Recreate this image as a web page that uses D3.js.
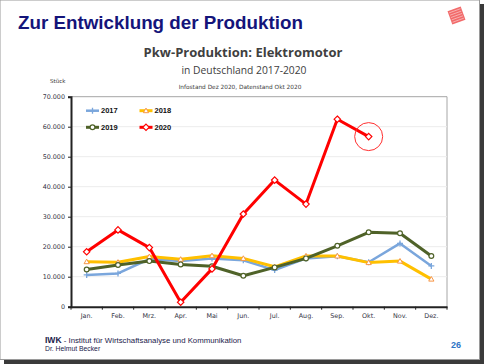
<!DOCTYPE html>
<html>
<head>
<meta charset="utf-8">
<script src="https://cdn.jsdelivr.net/npm/d3@7"></script>
<style>
  body { margin: 0; background: #fff; }
  svg { display: block; }
</style>
</head>
<body>
<div id="chart"></div>
<script>
const months = ["Jan.", "Feb.", "Mrz.", "Apr.", "Mai", "Jun.", "Jul.", "Aug.", "Sep.", "Okt.", "Nov.", "Dez."];
const years = ["2017", "2018", "2019", "2020"];
const v2017 = [10600, 11100, 15900, 15200, 16100, 15500, 12200, 16100, 16800, 14800, 21100, 13600];
const v2018 = [15000, 14800, 16700, 15800, 17000, 16100, 13300, 16900, 16900, 14700, 15200, 9200];
const v2019 = [12400, 13900, 15200, 14100, 13500, 10300, 13100, 16100, 20300, 24800, 24500, 16900];
const v2020 = [18300, 25600, 19700, 1500, 12600, 30900, 42200, 34200, 62500, 56700];
const yTicks = [0, 10000, 20000, 30000, 40000, 50000, 60000, 70000];

const W = 484, H = 364;
const svg = d3.select("#chart").append("svg")
    .attr("width", W).attr("height", H);

// slide frame with shadow
svg.append("rect").attr("x", 0).attr("y", 0).attr("width", W).attr("height", H).attr("fill", "#fff");
svg.append("rect").attr("x", 4).attr("y", 4).attr("width", 480).attr("height", 360).attr("fill", "#3a3a3a");
svg.append("rect").attr("x", 0).attr("y", 0).attr("width", 479.5).attr("height", 359.5)
    .attr("fill", "#fff").attr("stroke", "#9a9a9a").attr("stroke-width", 1);

// headline
svg.append("text")
    .attr("x", 18).attr("y", 29)
    .style("font", "bold 18.8px 'Liberation Sans', Arial, sans-serif")
    .attr("fill", "#14147a")
    .text("Zur Entwicklung der Produktion");

// logo
const logo = svg.append("g").attr("transform", "translate(456.5,15.5) rotate(-20)");
logo.append("rect").attr("x", -7).attr("y", -7).attr("width", 14).attr("height", 14).attr("fill", "#f26a6a");
for (let i = -5; i <= 5; i += 2.5) {
    logo.append("line").attr("x1", -6).attr("x2", 6).attr("y1", i).attr("y2", i)
        .attr("stroke", "#fff").attr("stroke-width", 0.6).attr("opacity", 0.7);
}

// chart titles
svg.append("text").attr("x", 243).attr("y", 57).attr("text-anchor", "middle")
    .style("font", "bold 13px 'Open Sans', sans-serif").attr("fill", "#404040")
    .text("Pkw-Produktion: Elektromotor");
svg.append("text").attr("x", 244).attr("y", 74).attr("text-anchor", "middle")
    .style("font", "10.3px 'Open Sans', sans-serif").attr("fill", "#404040")
    .text("in Deutschland 2017-2020");
svg.append("text").attr("x", 240).attr("y", 89).attr("text-anchor", "middle")
    .style("font", "5.8px 'DejaVu Sans', sans-serif").attr("fill", "#404040")
    .text("Infostand Dez 2020, Datenstand Okt 2020");
svg.append("text").attr("x", 50).attr("y", 83)
    .style("font", "5.5px 'DejaVu Sans', sans-serif").attr("fill", "#333")
    .text("Stück");

// plot
const pLeft = 71, pRight = 447, pTop = 96.7, pBottom = 306.7;
const x = d3.scaleBand().domain(months).range([pLeft, pRight]);
const y = d3.scaleLinear().domain([0, 70000]).range([pBottom, pTop]);

// plot area border (top/right)
svg.append("path")
    .attr("d", `M${pLeft},${pTop}H${pRight}V${pBottom}`)
    .attr("fill", "none").attr("stroke", "#a6a6a6").attr("stroke-width", 1);

// gridlines
svg.append("g").selectAll("line")
    .data(yTicks.filter(d => d > 0 && d < 70000))
    .join("line")
    .attr("x1", pLeft).attr("x2", pRight)
    .attr("y1", d => y(d)).attr("y2", d => y(d))
    .attr("stroke", "#ececec").attr("stroke-width", 1);

const fmt = d => d === 0 ? "0" : d3.format(",")(d).replace(/,/g, ".");

const yAxis = svg.append("g")
    .attr("transform", `translate(${pLeft},0)`)
    .call(d3.axisLeft(y).tickValues(yTicks).tickFormat(fmt).tickSize(3).tickPadding(3));
yAxis.select(".domain").attr("stroke", "#222").attr("stroke-width", 2);
yAxis.selectAll(".tick line").attr("stroke", "#222").attr("stroke-width", 1);
yAxis.selectAll("text").style("font", "6.4px 'DejaVu Sans', sans-serif").attr("fill", "#333344");

const xAxis = svg.append("g")
    .attr("transform", `translate(0,${pBottom})`)
    .call(d3.axisBottom(x).tickSize(0).tickPadding(7));
xAxis.select(".domain").attr("stroke", "#222").attr("stroke-width", 2);
xAxis.selectAll("text").style("font", "6.4px 'DejaVu Sans', sans-serif").attr("fill", "#333344");
// ticks at band boundaries
xAxis.append("g").selectAll("line")
    .data(months.concat(["end"]))
    .join("line")
    .attr("x1", (d, i) => i < months.length ? x(d) : pRight)
    .attr("x2", (d, i) => i < months.length ? x(d) : pRight)
    .attr("y1", 0).attr("y2", 3)
    .attr("stroke", "#222").attr("stroke-width", 1);

const series = [
    { name: "2017", values: v2017, color: "#7aa6dc", width: 2.5, marker: "cross" },
    { name: "2018", values: v2018, color: "#ffc000", width: 3, marker: "triangle", mcolor: "#f79646" },
    { name: "2019", values: v2019, color: "#4f6228", width: 3, marker: "circle" },
    { name: "2020", values: v2020, color: "#ff0000", width: 3, marker: "diamond" }
];

const line = d3.line()
    .x((d, i) => x(months[i]) + x.bandwidth() / 2)
    .y(d => y(d));

function drawMarker(g, type, color, mcolor) {
    if (type === "cross") {
        g.append("path").attr("d", "M-3,0H3M0,-3V3").attr("stroke", color).attr("stroke-width", 1.3);
    } else if (type === "triangle") {
        g.append("path").attr("d", "M0,-2.6L2.6,2L-2.6,2Z").attr("fill", "#fff").attr("stroke", mcolor).attr("stroke-width", 1);
    } else if (type === "circle") {
        g.append("circle").attr("r", 2.4).attr("fill", "#fff").attr("stroke", color).attr("stroke-width", 1.2);
    } else if (type === "diamond") {
        g.append("path").attr("d", "M0,-3.2L3.2,0L0,3.2L-3.2,0Z").attr("fill", "#fff").attr("stroke", color).attr("stroke-width", 1.2);
    }
}

series.forEach(s => {
    svg.append("path")
        .datum(s.values)
        .attr("d", line)
        .attr("fill", "none")
        .attr("stroke", s.color)
        .attr("stroke-width", s.width)
        .attr("stroke-linejoin", "round");
    s.values.forEach((v, i) => {
        const g = svg.append("g")
            .attr("transform", `translate(${x(months[i]) + x.bandwidth() / 2},${y(v)})`);
        drawMarker(g, s.marker, s.color, s.mcolor || s.color);
    });
});

// highlight circle around latest 2020 value
const lastI = v2020.length - 1;
svg.append("circle")
    .attr("cx", x(months[lastI]) + x.bandwidth() / 2)
    .attr("cy", y(v2020[lastI]))
    .attr("r", 14)
    .attr("fill", "none").attr("stroke", "#ff3030").attr("stroke-width", 1);

// legend
const legend = svg.append("g");
series.forEach((s, i) => {
    const lx = 86 + (i % 2) * 53.5;
    const ly = 110.7 + Math.floor(i / 2) * 16.6;
    const g = legend.append("g").attr("transform", `translate(${lx},${ly})`);
    g.append("line").attr("x1", 0).attr("x2", 13).attr("y1", 0).attr("y2", 0)
        .attr("stroke", s.color).attr("stroke-width", s.width);
    const m = g.append("g").attr("transform", "translate(6.5,0)");
    drawMarker(m, s.marker, s.color, s.mcolor || s.color);
    g.append("text").attr("x", 15).attr("y", 2.6)
        .style("font", "bold 7.5px 'Liberation Sans', Arial, sans-serif").attr("fill", "#111")
        .text(s.name);
});

// footer
svg.append("text").attr("x", 45).attr("y", 343)
    .style("font", "7.8px 'Liberation Sans', Arial, sans-serif").attr("fill", "#1a1a4a")
    .html("<tspan font-weight='bold' font-size='8.5px'>IWK</tspan>  -  Institut für Wirtschaftsanalyse und Kommunikation");
svg.append("text").attr("x", 45).attr("y", 351)
    .style("font", "6.8px 'Liberation Sans', Arial, sans-serif").attr("fill", "#1a1a4a")
    .text("Dr. Helmut Becker");
svg.append("text").attr("x", 461).attr("y", 348).attr("text-anchor", "end")
    .style("font", "bold 9px 'Liberation Sans', Arial, sans-serif").attr("fill", "#2e75c6")
    .text("26");
</script>
</body>
</html>
